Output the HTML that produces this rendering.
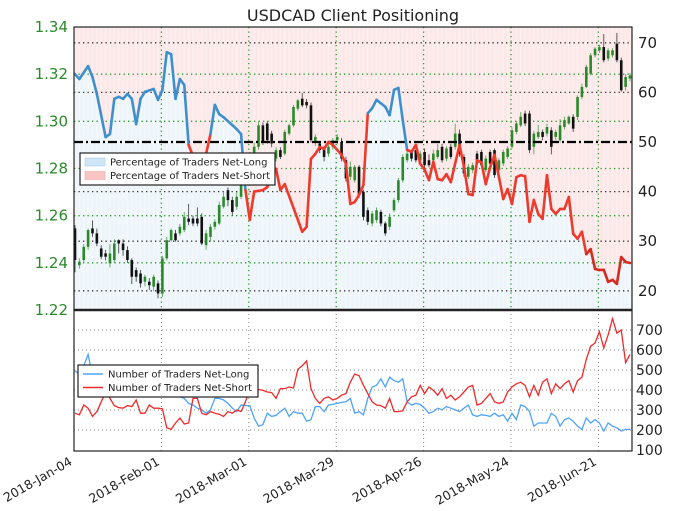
<!DOCTYPE html>
<html><head><meta charset="utf-8"><style>
html,body{margin:0;padding:0;background:#fff;width:680px;height:511px;overflow:hidden}
svg{display:block;font-family:"DejaVu Sans","Liberation Sans",sans-serif}
</style></head><body>
<svg id="chart" width="680" height="511" viewBox="0 0 680 511" xmlns="http://www.w3.org/2000/svg"></svg>
<script>
const dateLabels=["2018-Jan-04","2018-Feb-01","2018-Mar-01","2018-Mar-29","2018-Apr-26","2018-May-24","2018-Jun-21"];
const dateIdx=[0,20,40,60,80,100,120];
const priceTicks=[1.34,1.32,1.30,1.28,1.26,1.24,1.22];
const pctTicks=[70,60,50,40,30,20];
const countTicks=[700,600,500,400,300,200,100];
const openP=[1.2546,1.2390,1.2412,1.2468,1.2546,1.2525,1.2461,1.2440,1.2398,1.2412,1.2496,1.2482,1.2454,1.2412,1.2369,1.2355,1.2320,1.2320,1.2299,1.2313,1.2270,1.2419,1.2496,1.2525,1.2525,1.2539,1.2588,1.2588,1.2588,1.2595,1.2475,1.2510,1.2553,1.2567,1.2638,1.2708,1.2666,1.2638,1.2680,1.2750,1.2800,1.2850,1.2892,1.2983,1.2991,1.2948,1.2842,1.2878,1.2863,1.2948,1.2983,1.3054,1.3096,1.3082,1.3068,1.2913,1.2906,1.2884,1.2863,1.2892,1.2920,1.2913,1.2835,1.2765,1.2750,1.2807,1.2701,1.2623,1.2567,1.2581,1.2616,1.2567,1.2553,1.2623,1.2666,1.2750,1.2835,1.2870,1.2878,1.2835,1.2870,1.2835,1.2835,1.2849,1.2892,1.2842,1.2892,1.2892,1.2948,1.2849,1.2765,1.2793,1.2863,1.2870,1.2793,1.2870,1.2878,1.2793,1.2821,1.2849,1.2892,1.2955,1.2983,1.3033,1.3033,1.2892,1.2934,1.2955,1.2948,1.2962,1.2934,1.2920,1.2976,1.2991,1.3019,1.3019,1.3103,1.3146,1.3202,1.3280,1.3301,1.3315,1.3266,1.3280,1.3329,1.3259,1.3146,1.3181];
const closeP=[1.2412,1.2405,1.2468,1.2539,1.2525,1.2482,1.2426,1.2426,1.2440,1.2482,1.2482,1.2454,1.2412,1.2341,1.2341,1.2313,1.2341,1.2305,1.2341,1.2270,1.2419,1.2496,1.2539,1.2496,1.2553,1.2595,1.2574,1.2567,1.2567,1.2482,1.2525,1.2553,1.2574,1.2645,1.2680,1.2666,1.2616,1.2680,1.2750,1.2821,1.2850,1.2892,1.2983,1.2913,1.2920,1.2906,1.2878,1.2849,1.2955,1.2983,1.3061,1.3089,1.3068,1.3068,1.2920,1.2934,1.2878,1.2849,1.2892,1.2920,1.2934,1.2842,1.2758,1.2807,1.2807,1.2687,1.2595,1.2574,1.2609,1.2623,1.2567,1.2525,1.2595,1.2666,1.2750,1.2849,1.2863,1.2842,1.2835,1.2863,1.2814,1.2814,1.2863,1.2878,1.2835,1.2885,1.2849,1.2948,1.2863,1.2779,1.2807,1.2814,1.2821,1.2814,1.2842,1.2821,1.2772,1.2835,1.2870,1.2885,1.2962,1.2991,1.3019,1.2991,1.2878,1.2948,1.2955,1.2934,1.2976,1.2892,1.2955,1.2983,1.3005,1.3019,1.2969,1.3103,1.3146,1.3231,1.3280,1.3308,1.3315,1.3259,1.3301,1.3301,1.3259,1.3132,1.3188,1.3195];
const highP=[1.2560,1.2420,1.2480,1.2545,1.2580,1.2545,1.2475,1.2455,1.2480,1.2500,1.2500,1.2500,1.2470,1.2420,1.2380,1.2370,1.2350,1.2335,1.2350,1.2325,1.2430,1.2510,1.2545,1.2540,1.2565,1.2615,1.2650,1.2600,1.2635,1.2610,1.2540,1.2565,1.2585,1.2660,1.2700,1.2720,1.2680,1.2700,1.2760,1.2830,1.2870,1.2910,1.3000,1.2995,1.3000,1.2960,1.2890,1.2890,1.2965,1.2990,1.3070,1.3095,1.3120,1.3095,1.3080,1.2945,1.2915,1.2895,1.2905,1.2930,1.2945,1.2930,1.2850,1.2830,1.2815,1.2815,1.2710,1.2635,1.2620,1.2635,1.2625,1.2575,1.2610,1.2675,1.2760,1.2860,1.2875,1.2880,1.2890,1.2875,1.2885,1.2860,1.2880,1.2905,1.2905,1.2895,1.2905,1.2990,1.2965,1.2860,1.2820,1.2825,1.2875,1.2880,1.2855,1.2880,1.2885,1.2845,1.2880,1.2895,1.2975,1.3000,1.3040,1.3045,1.3045,1.2960,1.2985,1.2965,1.2990,1.2975,1.2965,1.3010,1.3020,1.3025,1.3030,1.3110,1.3160,1.3240,1.3290,1.3315,1.3325,1.3370,1.3310,1.3310,1.3375,1.3270,1.3200,1.3205];
const lowP=[1.2360,1.2375,1.2400,1.2455,1.2510,1.2470,1.2415,1.2410,1.2380,1.2400,1.2440,1.2430,1.2400,1.2310,1.2320,1.2295,1.2300,1.2285,1.2280,1.2250,1.2255,1.2410,1.2490,1.2490,1.2515,1.2530,1.2560,1.2555,1.2555,1.2475,1.2455,1.2490,1.2540,1.2560,1.2630,1.2640,1.2600,1.2625,1.2670,1.2740,1.2790,1.2840,1.2880,1.2900,1.2905,1.2890,1.2830,1.2840,1.2855,1.2940,1.2975,1.3045,1.3060,1.3055,1.2910,1.2895,1.2865,1.2830,1.2850,1.2880,1.2905,1.2830,1.2745,1.2750,1.2740,1.2675,1.2580,1.2560,1.2555,1.2570,1.2555,1.2515,1.2540,1.2615,1.2655,1.2740,1.2825,1.2830,1.2825,1.2820,1.2800,1.2805,1.2825,1.2840,1.2825,1.2830,1.2840,1.2880,1.2850,1.2765,1.2755,1.2780,1.2810,1.2805,1.2785,1.2810,1.2760,1.2785,1.2810,1.2840,1.2885,1.2945,1.2975,1.2980,1.2865,1.2860,1.2925,1.2920,1.2935,1.2860,1.2920,1.2910,1.2965,1.2985,1.2955,1.3005,1.3095,1.3140,1.3195,1.3270,1.3290,1.3250,1.3255,1.3270,1.3250,1.3125,1.3130,1.3170];
const pctDays=[0,1,3,4,5,7,8,9,10,11,12,13,14,15,16,18,19,20,21,22,23,24,25,26,28,30,31,32,33,34,36,37,38,39,40,41,43,44,45,46,47,48,51,52,53,54,55,56,57,58,59,61,62,63,64,65,66,67,68,69,71,72,73,74,75,76,77,78,79,80,81,82,83,84,85,86,88,89,90,91,92,93,94,95,96,98,99,100,101,102,103,104,105,106,107,108,109,110,111,112,113,114,115,116,117,118,119,120,121,122,123,124,125,126,127];
const pctLong=[63.7,62.7,65.3,63.1,59.7,51.0,51.6,58.7,59.1,58.7,59.7,58.7,53.6,58.7,60.1,60.7,58.5,60.5,68.1,67.7,58.7,62.7,61.5,49.4,45.0,47.6,51.6,57.5,55.6,55.0,53.4,52.6,51.6,40.3,34.3,40.0,40.3,40.9,44.4,44.6,40.3,41.5,34.3,31.9,32.9,46.6,47.6,49.0,48.6,50.0,49.4,47.4,45.6,37.5,37.9,39.3,41.3,55.8,56.8,58.5,57.1,55.4,60.5,60.9,54.4,48.4,48.0,49.4,45.6,44.4,42.3,46.0,42.5,42.3,43.5,41.9,49.4,45.0,39.5,39.3,46.3,45.9,41.5,44.9,47.4,38.5,40.5,37.5,42.9,43.3,43.1,33.9,38.3,35.5,34.5,43.3,36.5,35.5,36.5,36.5,38.9,31.5,30.5,31.9,27.4,28.4,24.4,24.2,24.2,21.8,22.2,21.4,26.8,25.8,25.6];
const numLong=[496,480,521,578,470,455,440,460,430,445,420,430,410,425,415,430,420,405,395,410,400,390,380,374,366,358,333,325,309,301,284,301,358,358,350,333,309,292,325,322,322,260,219,227,284,268,273,292,309,268,292,284,284,244,252,317,317,292,325,328,333,338,341,358,284,292,276,358,415,423,456,415,464,447,439,456,341,325,333,328,309,284,292,309,301,317,309,301,292,309,325,276,268,276,273,268,284,268,276,244,284,252,325,317,292,219,235,235,235,284,268,219,252,260,244,219,203,260,235,252,235,195,235,219,211,195,203,203];
const numShort=[284,276,325,309,268,292,341,390,358,322,312,309,322,317,350,284,284,325,309,309,306,211,203,235,260,230,235,358,358,284,276,292,284,279,268,292,284,300,292,341,407,398,403,398,390,387,358,407,407,415,410,504,521,545,407,358,333,358,366,350,358,374,382,439,480,472,423,382,341,325,322,309,358,292,292,296,341,366,374,423,382,415,398,374,407,358,374,350,366,390,415,423,325,333,358,382,341,333,341,390,415,431,439,423,366,423,374,439,456,382,431,407,431,447,390,447,464,553,619,635,692,610,676,757,684,700,537,578];

const svg=document.getElementById('chart');
const NS='http://www.w3.org/2000/svg';
const L=74,R=632,T=27,M=310,B=451;
function xDay(i){return 75+i*4.37;}
function yPrice(p){return T+(1.34-p)*(M-T)/0.12;}
function yPct(v){return 142-(v-50)*4.96;}
function yCount(v){return 450-(v-100)/5;}
function mk(tag,attrs,parent){const e=document.createElementNS(NS,tag);for(const k in attrs)e.setAttribute(k,attrs[k]);(parent||svg).appendChild(e);return e;}

const defs=mk('defs',{});
const cp=mk('clipPath',{id:'topclip'},defs);
mk('rect',{x:L,y:T,width:R-L,height:M-T},cp);
const pat=mk('pattern',{id:'stripes',width:4.37,height:10,patternUnits:'userSpaceOnUse'},defs);
mk('rect',{x:0,y:0,width:1.2,height:10,fill:'#ffffff',opacity:0.35},pat);

const title=mk('text',{x:353,y:21,'text-anchor':'middle','font-size':16,fill:'#222'});
title.textContent='USDCAD Client Positioning';



const topBg=mk('rect',{x:L,y:T,width:R-L,height:M-T,fill:'#fce8e8'});


let areaPts=`${xDay(pctDays[0])},${M} `+pctDays.map((d,k)=>`${xDay(d)},${yPct(pctLong[k])}`).join(' ')+` ${R},${yPct(pctLong[pctLong.length-1])} ${R},${M}`;
const area=mk('polygon',{points:`${L},${M} ${L},${yPct(pctLong[0])} `+areaPts,fill:'#eef5fa','clip-path':'url(#topclip)'});


mk('rect',{x:L,y:T,width:R-L,height:M-T,fill:'url(#stripes)'});

const gTop=mk('g',{});


priceTicks.forEach(p=>{const y=yPrice(p);if(y>T+1&&y<M-1)mk('line',{x1:L,x2:R,y1:y,y2:y,stroke:'#2a9a2a','stroke-width':1.3,'stroke-dasharray':'1.3,3.2'},gTop);});
pctTicks.forEach(v=>{if(v===50)return;const y=yPct(v);mk('line',{x1:L,x2:R,y1:y,y2:y,stroke:'#333','stroke-width':1.3,'stroke-dasharray':'1.3,3.2'},gTop);});
dateIdx.forEach(i=>{const x=xDay(i)-1;if(x>L+2)mk('line',{x1:x,x2:x,y1:T,y2:M,stroke:'#2a9a2a','stroke-width':1.3,'stroke-dasharray':'1.3,3.2'},gTop);});

const gC=mk('g',{});


openP.forEach((o,i)=>{
  const c=closeP[i],x=xDay(i);const col=c>=o?'#2a8a2a':'#111';
  mk('line',{x1:x,x2:x,y1:yPrice(highP[i]),y2:yPrice(lowP[i]),stroke:col,'stroke-width':0.9,opacity:0.75},gC);
  const y1=yPrice(Math.max(o,c)),y2=yPrice(Math.min(o,c));
  const b=mk('rect',{x:x-1.3,y:y1,width:2.6,height:Math.max(1,y2-y1),fill:col},gC);
  
  
});

const fifty=mk('line',{x1:L,x2:R,y1:yPct(50),y2:yPct(50),stroke:'#000','stroke-width':2.2,'stroke-dasharray':'9,3,2,3'});



const gP=mk('g',{'clip-path':'url(#topclip)'});


for(let k=0;k<pctDays.length-1;k++){
  const v=pctLong[k];
  const col=v>50?'#3f8fcc':(v<30?'#d42a1f':'#ee3a2c');
  mk('line',{x1:xDay(pctDays[k]),y1:yPct(pctLong[k]),x2:xDay(pctDays[k+1]),y2:yPct(pctLong[k+1]),stroke:col,'stroke-width':2.6,'stroke-linecap':'round'},gP);
}

const botBg=mk('rect',{x:L,y:M,width:R-L,height:B-M,fill:'#fff'});


const gB=mk('g',{});


countTicks.forEach(v=>{const y=yCount(v);if(y<B-2)mk('line',{x1:L,x2:R,y1:y,y2:y,stroke:'#888','stroke-width':1,'stroke-dasharray':'1,3'},gB);});
dateIdx.forEach(i=>{const x=xDay(i)-1;if(x>L+2)mk('line',{x1:x,x2:x,y1:M,y2:B,stroke:'#888','stroke-width':1,'stroke-dasharray':'1,3'},gB);});
function poly(arr,col,name){
  const p=mk('polyline',{points:arr.map((v,i)=>`${xDay(i)},${yCount(v)}`).join(' '),fill:'none',stroke:col,'stroke-width':1.3});
  
  
}
poly(numLong,'#4da3ff','net-long-count-line');
poly(numShort,'#f02a2a','net-short-count-line');

mk('rect',{x:L,y:T,width:R-L,height:M-T,fill:'none',stroke:'#222','stroke-width':1.2});
mk('rect',{x:L,y:M,width:R-L,height:B-M,fill:'none',stroke:'#222','stroke-width':1.2});
mk('line',{x1:L,x2:R,y1:M,y2:M,stroke:'#222','stroke-width':2.5});

priceTicks.forEach(p=>{const t=mk('text',{x:68,y:yPrice(p)+5,'text-anchor':'end','font-size':15,fill:'#2a8a2a'});t.textContent=p.toFixed(2);
  
  });
pctTicks.forEach(v=>{const t=mk('text',{x:638,y:yPct(v)+5,'font-size':15,fill:'#222'});t.textContent=v;
  
  });
countTicks.forEach(v=>{const t=mk('text',{x:636,y:yCount(v)+5,'font-size':14,fill:'#222'});t.textContent=v;
  
  });
dateLabels.forEach((s,k)=>{const x=xDay(dateIdx[k])-2;
  const t=mk('text',{x:0,y:0,'text-anchor':'end','font-size':12.5,fill:'#222',transform:`translate(${x},${B+13}) rotate(-30)`});t.textContent=s;
  
  });

function legend(x,y,w,h,items,name,fs){
  const g=mk('g',{});
  
  
  mk('rect',{x:x,y:y,width:w,height:h,fill:'#fff',stroke:'#222','stroke-width':1.2},g);
  items.forEach((it,k)=>{const yy=y+9+k*13.5;
    if(it.box)mk('rect',{x:x+5,y:yy-4,width:20,height:8,fill:it.fill,stroke:it.col,'stroke-width':0.5},g);
    else mk('line',{x1:x+5,x2:x+25,y1:yy,y2:yy,stroke:it.col,'stroke-width':1.5},g);
    const t=mk('text',{x:x+30,y:yy+3.5,'font-size':fs,fill:'#222'},g);t.textContent=it.label;
    
    });
}
legend(80,153,195,32,[{box:1,fill:'#cfe4f5',col:'#9cc6e8',label:'Percentage of Traders Net-Long'},{box:1,fill:'#f9c4c4',col:'#f09a9a',label:'Percentage of Traders Net-Short'}],'percentage-legend',10);
legend(78,365,180,32,[{col:'#4da3ff',label:'Number of Traders Net-Long'},{col:'#f02a2a',label:'Number of Traders Net-Short'}],'count-legend',10);
</script>
</body></html>
